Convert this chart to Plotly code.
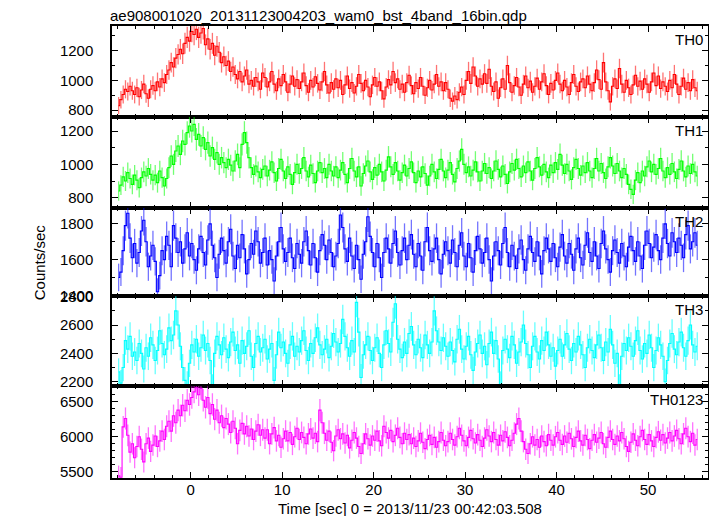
import numpy as np
import plotly.graph_objects as go

# ---- data (0.25 s bins, count rate in counts/sec) ----
t_start = -8.0
bin_width = 0.25

th0 = [
    830, 870, 905, 940, 925, 960, 930, 905, 950, 890, 935, 975, 910, 880, 940, 965,
    930, 990, 955, 1010, 985, 1040, 1070, 1120, 1090, 1150, 1175, 1210, 1180, 1250, 1290, 1265,
    1330, 1310, 1345, 1290, 1320, 1350, 1240, 1280, 1210, 1250, 1170, 1230, 1190, 1120, 1160, 1100,
    1130, 1060, 1090, 1040, 1010, 1060, 990, 1030, 1070, 975, 1000, 960, 1020, 990, 940, 1050,
    1020, 955, 990, 1060, 975, 930, 1010, 965, 1040, 990, 920, 975, 1030, 960, 1005, 945,
    990, 1050, 965, 920, 1000, 955, 1025, 980, 935, 990, 1060, 970, 915, 985, 940, 1010,
    950, 1000, 905, 970, 1030, 945, 985, 915, 960, 1040, 980, 930, 1000, 955, 890, 970,
    1020, 960, 990, 930, 875, 955, 1005, 970, 1060, 985, 1010, 940, 975, 920, 985, 1035,
    965, 910, 985, 945, 1020, 960, 900, 950, 1000, 935, 975, 1040, 960, 990, 930, 985,
    940, 880, 860, 895, 870, 920, 955, 905, 1000, 1060, 980, 1090, 1030, 960, 1010, 975,
    1045, 980, 1075, 960, 925, 990, 880, 950, 1010, 940, 1100, 985, 920, 965, 1020, 955,
    900, 975, 1030, 950, 995, 920, 960, 1015, 940, 990, 1045, 965, 905, 980, 935, 1000,
    1050, 975, 930, 1000, 955, 905, 985, 1040, 960, 925, 990, 1010, 950, 1030, 975, 930,
    985, 1070, 1005, 940, 1120, 990, 930, 855, 960, 1010, 945, 1080, 975, 920, 1000, 950,
    905, 970, 1035, 960, 995, 940, 1010, 975, 920, 990, 1050, 965, 1030, 945, 990, 960,
    925, 1000, 950, 1040, 975, 905, 960, 1015, 940, 985, 930, 1005, 950, 930,
]

th1 = [
    840, 875, 925, 900, 950, 915, 880, 935, 905, 860, 920, 955, 930, 975, 940, 905,
    935, 890, 960, 920, 870, 915, 980, 1050, 1000, 1080, 1110, 1060, 1140, 1120, 1190, 1230,
    1200, 1240, 1150, 1180, 1110, 1160, 1090, 1130, 1050, 1100, 1030, 1070, 1000, 1040, 1010, 980,
    1030, 995, 960, 1020, 1060, 980, 1120, 1190, 1130, 1040, 980, 940, 990, 955, 920, 970,
    990, 930, 965, 1015, 950, 900, 975, 1030, 960, 915, 985, 940, 880, 950, 1000, 945,
    975, 1040, 960, 925, 995, 945, 890, 960, 1010, 950, 975, 920, 1000, 960, 930, 985,
    920, 965, 1010, 940, 890, 975, 1035, 960, 925, 985, 870, 945, 990, 1020, 955, 910,
    980, 935, 1000, 955, 900, 965, 1045, 985, 940, 1010, 960, 905, 950, 995, 930, 975,
    1015, 950, 890, 960, 925, 985, 945, 875, 930, 1000, 955, 915, 970, 1030, 960, 920,
    965, 1010, 940, 895, 975, 1020, 1090, 1000, 950, 985, 930, 965, 1015, 955, 900, 960,
    1005, 945, 980, 915, 960, 1020, 970, 925, 990, 940, 885, 955, 1005, 965, 1030, 975,
    925, 990, 950, 1015, 960, 905, 975, 1040, 985, 935, 1000, 955, 920, 995, 950, 1010,
    970, 1060, 995, 945, 1000, 960, 910, 980, 1030, 975, 935, 990, 950, 1010, 960, 920,
    975, 1035, 960, 1005, 950, 915, 985, 1040, 990, 945, 1005, 960, 920, 975, 940, 880,
    850, 820, 905, 950, 890, 960, 930, 985, 1020, 955, 1000, 940, 975, 1035, 960, 920,
    980, 940, 1005, 955, 915, 970, 1020, 960, 925, 990, 945, 1000, 955, 930,
]

th2 = [
    1500, 1530, 1650, 1790, 1860, 1720, 1610, 1690, 1580, 1640, 1760, 1820, 1700, 1560, 1620, 1680,
    1590, 1420, 1510, 1650, 1600, 1730, 1680, 1560, 1790, 1720, 1640, 1700, 1580, 1660, 1750, 1620,
    1690, 1600, 1540, 1660, 1730, 1640, 1570, 1710, 1800, 1680, 1610, 1500, 1630, 1720, 1650, 1580,
    1700, 1770, 1620, 1550, 1680, 1610, 1740, 1660, 1520, 1600, 1690, 1630, 1760, 1700, 1580, 1640,
    1720, 1570, 1650, 1600, 1480, 1620, 1700, 1780, 1660, 1590, 1640, 1720, 1610, 1550, 1690, 1630,
    1580, 1700, 1760, 1650, 1570, 1690, 1610, 1530, 1650, 1740, 1680, 1600, 1710, 1640, 1560, 1620,
    1690, 1850, 1780, 1660, 1590, 1720, 1620, 1550, 1680, 1600, 1490, 1630, 1700, 1840, 1730, 1640,
    1560, 1690, 1610, 1500, 1640, 1720, 1660, 1580, 1690, 1760, 1640, 1570, 1650, 1720, 1600, 1680,
    1740, 1630, 1560, 1690, 1620, 1540, 1700, 1780, 1650, 1590, 1660, 1720, 1600, 1520, 1630, 1700,
    1650, 1580, 1710, 1640, 1560, 1680, 1750, 1620, 1560, 1690, 1610, 1530, 1650, 1730, 1660, 1580,
    1640, 1720, 1600, 1480, 1620, 1700, 1650, 1570, 1690, 1780, 1640, 1560, 1680, 1620, 1550, 1660,
    1710, 1600, 1540, 1660, 1730, 1640, 1590, 1700, 1620, 1520, 1650, 1720, 1660, 1590, 1690, 1610,
    1560, 1670, 1740, 1620, 1580, 1690, 1630, 1540, 1660, 1720, 1610, 1570, 1680, 1750, 1640, 1590,
    1700, 1620, 1550, 1690, 1760, 1660, 1600, 1530, 1650, 1710, 1640, 1580, 1690, 1620, 1560, 1670,
    1730, 1650, 1590, 1700, 1620, 1550, 1680, 1760, 1690, 1610, 1670, 1740, 1650, 1600, 1720, 1800,
    1690, 1620, 1750, 1700, 1640, 1720, 1680, 1610, 1740, 1790, 1660, 1700, 1750, 1680,
]

th3 = [
    2270, 2190, 2300, 2490, 2430, 2520, 2380, 2410, 2350, 2470, 2400, 2290, 2440, 2380, 2510, 2460,
    2350, 2420, 2560, 2470, 2390, 2430, 2580, 2490, 2530, 2700, 2600, 2450, 2300, 2210, 2180, 2330,
    2460, 2410, 2500, 2380, 2440, 2530, 2420, 2470, 2350, 2160, 2400, 2520, 2460, 2390, 2510, 2430,
    2370, 2480, 2550, 2420, 2460, 2330, 2490, 2400, 2450, 2560, 2380, 2300, 2470, 2520, 2410, 2440,
    2500, 2360, 2430, 2470, 2210, 2390, 2550, 2440, 2480, 2400, 2330, 2460, 2520, 2380, 2450, 2410,
    2490, 2560, 2420, 2350, 2470, 2400, 2510, 2580, 2460, 2390, 2430, 2500, 2370, 2450, 2540, 2480,
    2410, 2470, 2640, 2520, 2440, 2380, 2490, 2410, 2760, 2550, 2230, 2390, 2460, 2520, 2420, 2350,
    2440, 2510, 2400, 2300, 2460, 2560, 2470, 2410, 2620, 2750, 2500, 2430, 2370, 2480, 2400, 2540,
    2590, 2460, 2390, 2500, 2440, 2370, 2530, 2460, 2400, 2480, 2700, 2560, 2480, 2420, 2510, 2450,
    2380, 2480, 2420, 2340, 2500, 2570, 2430, 2360, 2450, 2520, 2390, 2280, 2410, 2470, 2530, 2400,
    2450, 2320, 2470, 2550, 2400, 2490, 2360, 2180, 2420, 2500, 2430, 2370, 2520, 2460, 2330, 2410,
    2480, 2600, 2470, 2390, 2300, 2450, 2520, 2410, 2360, 2490, 2420, 2550, 2460, 2380, 2440, 2310,
    2420, 2500, 2380, 2460, 2540, 2430, 2350, 2470, 2410, 2520, 2460, 2390, 2300, 2440, 2500, 2420,
    2370, 2460, 2530, 2440, 2350, 2480, 2410, 2570, 2460, 2330, 2400, 2160, 2380, 2470, 2420, 2510,
    2450, 2380, 2490, 2560, 2420, 2360, 2470, 2400, 2530, 2440, 2300, 2420, 2510, 2460, 2380, 2200,
    2350, 2470, 2540, 2430, 2390, 2480, 2550, 2440, 2380, 2490, 2600, 2460, 2410, 2450,
]

th0123 = [
    5440, 5420, 6140, 6260, 6020, 5780, 5900, 5700, 5860, 6000, 5820, 5640, 5900, 5980, 5790, 5880,
    6010, 5860, 5940, 6080, 5960, 6150, 6220, 6080, 6300, 6200, 6380, 6300, 6450, 6370, 6520, 6460,
    6560, 6640, 6700, 6600, 6690, 6520, 6420, 6560, 6330, 6460, 6250, 6380, 6200, 6300, 6130, 6260,
    6180, 6060, 6220, 6120, 5900, 6090, 6190, 6040, 6150, 6010, 6110, 5960, 6080, 6170, 6020, 6100,
    5980, 6100, 5900, 6040, 6130, 5940, 6020, 5850, 5970, 6080, 5940, 6060, 5890, 6000, 6120, 5960,
    6060, 5990, 5900, 6040, 6110, 5980, 6050, 5930, 6380, 6200, 6050, 5950, 6080, 5920, 5800, 6010,
    6100, 5970, 6040, 5910, 6020, 5840, 5950, 6060, 5980, 5860, 5760, 5900, 6040, 5970, 5880, 6010,
    5950, 6080, 5940, 5870, 6150, 6060, 5980, 6090, 5930, 6020, 6120, 5990, 5900, 6050, 5960, 6030,
    5900, 5980, 5860, 5940, 6050, 5920, 5830, 5960, 6020, 5890, 5990, 5850, 5930, 6060, 5950, 5870,
    5930, 6050, 5960, 5880, 6000, 6120, 6020, 5940, 5870, 5990, 6090, 5970, 5910, 6030, 5950, 5860,
    5980, 6100, 6010, 5930, 6060, 5960, 5880, 6020, 5940, 6070, 5990, 5870, 5950, 6050, 6180, 6260,
    6080, 5930, 5820, 5760, 5900, 6000, 5880, 5960, 5850, 6010, 5930, 5870, 6030, 5950, 5880, 6000,
    6060, 5950, 5890, 6010, 5920, 6050, 5970, 5860, 5990, 6080, 5940, 5880, 6020, 5960, 5830, 5950,
    6030, 5920, 5980, 6060, 5900, 5850, 5990, 6080, 5960, 5890, 6010, 5940, 6060, 5970, 5860, 5790,
    5920, 6040, 5950, 5870, 6000, 6090, 5960, 5890, 6030, 5940, 5860, 5990, 6070, 5950, 6030, 5910,
    5980, 6060, 5940, 6010, 6090, 5970, 5900, 6040, 6120, 6000, 5930, 6050, 5880, 5960,
]

panel_names = ["TH0", "TH1", "TH2", "TH3", "TH0123"]
panel_series = [th0, th1, th2, th3, th0123]
panel_colors = ["#ff0000", "#00ff00", "#0000ff", "#00ffff", "#ff00ff"]
panel_err_colors = ["rgba(255,0,0,0.55)", "rgba(0,255,0,0.55)", "rgba(0,0,255,0.55)",
                    "rgba(0,255,255,0.6)", "rgba(255,0,255,0.55)"]
y_ranges = [[753, 1367], [738, 1284], [1396, 1889], [2170, 2805], [5410, 6724]]
y_dticks = [200, 200, 200, 200, 500]
y_minor = [100, 100, 100, 100, 100]

title_text = "ae908001020_20131123004203_wam0_bst_4band_16bin.qdp"
x_title = "Time [sec] 0 = 2013/11/23 00:42:03.508"
y_title = "Counts/sec"

# ---- layout geometry (figure pixels; the page adds an 8 px body margin) ----
OFF = 8
W, H = 717 - OFF, 516 - OFF
L, R = 112 - OFF, 7
edges_px = [e - OFF for e in [26, 117, 208, 296, 386, 478]]
T = edges_px[0]
B = H - edges_px[-1]
plot_h = edges_px[-1] - edges_px[0]
plot_w = W - L - R

def ypaper(p):
    return (edges_px[-1] - p) / plot_h

def xpaper(p):
    return (p - L) / plot_w

FONT = "Liberation Sans, Arial, Helvetica, sans-serif"

fig = go.Figure()
layout = dict(
    width=W, height=H,
    margin=dict(l=L, r=R, t=T, b=B, pad=0),
    paper_bgcolor="white", plot_bgcolor="white",
    showlegend=False,
    font=dict(family=FONT, size=15, color="black"),
    annotations=[],
)

for i, (name, vals, col, ecol) in enumerate(zip(panel_names, panel_series, panel_colors, panel_err_colors)):
    k = i + 1
    v = np.asarray(vals, dtype=float)
    t = t_start + bin_width * (np.arange(len(v)) + 0.5)
    err = np.sqrt(v * bin_width) / bin_width
    xa = "x" if k == 1 else f"x{k}"
    ya = "y" if k == 1 else f"y{k}"
    # error bars (vertical only)
    fig.add_trace(go.Scatter(
        x=t, y=v, mode="markers", xaxis=xa, yaxis=ya,
        marker=dict(size=0.01, color=col, opacity=0),
        error_y=dict(type="data", array=err, width=0, thickness=1.3, color=ecol),
        hoverinfo="skip",
    ))
    # histogram-style step line
    fig.add_trace(go.Scatter(
        x=t, y=v, mode="lines", xaxis=xa, yaxis=ya,
        line=dict(color=col, width=1.1, shape="hvh"),
        hoverinfo="skip",
    ))
    top, bot = edges_px[i], edges_px[i + 1]
    dom = [ypaper(bot), ypaper(top)]
    xkey = "xaxis" if k == 1 else f"xaxis{k}"
    ykey = "yaxis" if k == 1 else f"yaxis{k}"
    layout[xkey] = dict(
        domain=[0, 1], range=[-8.6, 56.55], anchor=ya,
        showline=True, linecolor="black", linewidth=1.5, mirror="allticks",
        ticks="inside", ticklen=6, tickwidth=1.2, tickcolor="black",
        tick0=0, dtick=10, showgrid=False, zeroline=False,
        showticklabels=(k == 5),
        ticklabelstandoff=-3,
        tickfont=dict(family=FONT, size=15),
        minor=dict(dtick=2, tick0=0, ticks="inside", ticklen=3, tickwidth=1, tickcolor="black", showgrid=False),
    )
    if k > 1:
        layout[xkey]["matches"] = "x"
    layout[ykey] = dict(
        domain=dom, range=y_ranges[i], anchor=xa,
        showline=True, linecolor="black", linewidth=1.5, mirror="allticks",
        ticks="inside", ticklen=6, tickwidth=1.2, tickcolor="black",
        dtick=y_dticks[i], showgrid=False, zeroline=False,
        tickfont=dict(family=FONT, size=15),
        ticklabelstandoff=14,
        minor=dict(dtick=y_minor[i], ticks="inside", ticklen=3, tickwidth=1, tickcolor="black", showgrid=False),
    )
    layout["annotations"].append(dict(
        text=name, xref="paper", yref="paper", x=1, y=dom[1],
        xanchor="right", yanchor="top", xshift=-3, yshift=-3,
        showarrow=False, font=dict(family=FONT, size=15, color="black"),
    ))

layout["annotations"].append(dict(
    text=title_text, xref="paper", yref="paper",
    x=xpaper(108 - OFF), y=ypaper(15 - OFF), xanchor="left", yanchor="middle",
    showarrow=False, font=dict(family=FONT, size=15, color="black"),
))
layout["annotations"].append(dict(
    text=x_title, xref="paper", yref="paper",
    x=0.5, y=ypaper(508 - OFF), xanchor="center", yanchor="middle",
    showarrow=False, font=dict(family=FONT, size=15, color="black"),
))
layout["annotations"].append(dict(
    text=y_title, xref="paper", yref="paper",
    x=xpaper(40 - OFF), y=ypaper(262 - OFF), xanchor="center", yanchor="middle",
    textangle=-90, showarrow=False, font=dict(family=FONT, size=15, color="black"),
))

fig.update_layout(**layout)
fig.write_html("out.html")
